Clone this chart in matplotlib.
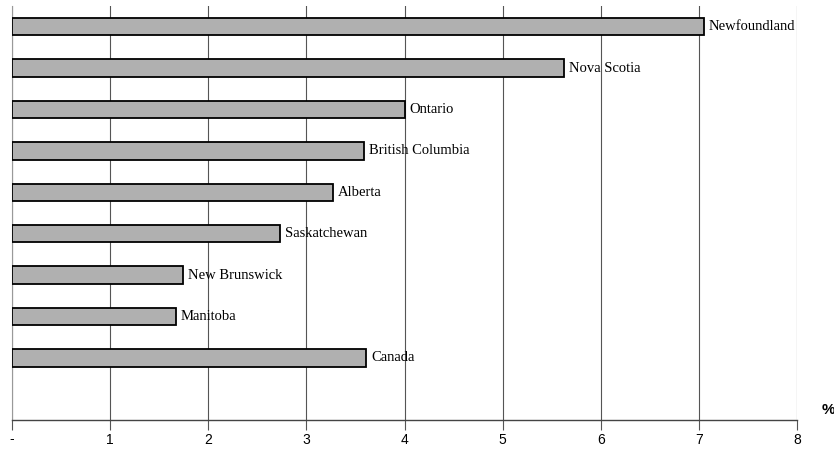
import matplotlib
matplotlib.use("Agg")
import matplotlib.pyplot as plt

provinces = ["Newfoundland", "Nova Scotia", "Ontario", "British Columbia", "Alberta",
             "Saskatchewan", "New Brunswick", "Manitoba", "Canada"]
values = [7.05, 5.63, 4.0, 3.59, 3.27, 2.73, 1.74, 1.67, 3.61]
tick_labels = ["-", "1", "2", "3", "4", "5", "6", "7", "8"]

fig = plt.figure(figsize=(8.34, 4.5), dpi=100)
ax = fig.add_axes([12/834, 1-420/450, (797-12)/834, (420-6)/450])

ypos = list(range(len(provinces)))
ax.barh(ypos, values, height=0.42, left=0, color="#b0b0b0", edgecolor="black",
        linewidth=1.3, zorder=3)
for y, v, name in zip(ypos, values, provinces):
    ax.text(v + 0.05, y, name, va="center", ha="left", fontsize=10.5,
            family="Liberation Serif", zorder=4)

ax.set_xlim(0, 8)
ax.set_ylim(9.5, -0.5)
ax.set_yticks([])
ax.set_xticks(range(9))
ax.set_xticklabels(tick_labels, family="Liberation Sans", fontsize=10)
ax.grid(axis="x", color="#555555", linewidth=0.8, zorder=0)
for s in ["top", "right"]:
    ax.spines[s].set_visible(False)
ax.spines["left"].set_color("#999999")
ax.spines["left"].set_linewidth(0.8)
ax.spines["bottom"].set_color("#444444")
ax.spines["bottom"].set_linewidth(1.0)
ax.tick_params(axis="x", length=7, width=0.8, color="#555555", pad=2, direction="out")
fig.text(828/834, 1-410/450, "%", fontsize=11, fontweight="bold",
         family="Liberation Sans", ha="center", va="center")

fig.savefig("out.png", dpi=100)
